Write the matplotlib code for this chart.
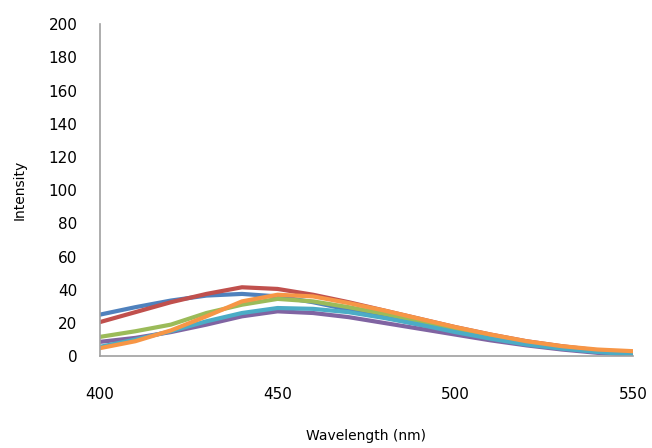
import matplotlib.pyplot as plt

wavelength = [400, 410, 420, 430, 440, 450, 460, 470, 480, 490, 500, 510, 520, 530, 540, 550]

blue   = [25, 29.5, 33.5, 36.5, 37.5, 36, 32.5, 28, 23.5, 19, 14.5, 10.5, 7, 4.5, 2.5, 1.5]
red    = [20.5, 26.5, 32.5, 37.5, 41.5, 40.5, 37, 32.5, 27.5, 22.5, 17.5, 13, 9, 6, 3.5, 2]
green  = [11.6, 15, 19, 26, 31, 34.5, 33, 29.5, 25.5, 21, 16, 12, 8.5, 5.5, 3, 2]
purple = [8.6, 11, 14.5, 19, 24, 27, 26, 23.5, 20, 16.5, 13, 9.5, 6.5, 4, 2, 1]
cyan   = [5.6, 10, 15, 21, 26, 29, 28.5, 26.5, 23, 19, 14.5, 10.5, 7, 4.5, 2.5, 1]
orange = [4.8, 9, 15.5, 24, 33, 37, 36, 32, 27.5, 22.5, 17.5, 13, 9, 6, 4, 3]

series = [blue, red, green, purple, cyan, orange]
colors = ["#4F81BD", "#C0504D", "#9BBB59", "#8064A2", "#4BACC6", "#F79646"]

fig = plt.figure(figsize=(6.52, 4.48), dpi=100)
ax = fig.add_axes([0.153, 0.205, 0.818, 0.741])

for s, c in zip(series, colors):
    ax.plot(wavelength, s, color=c, lw=3, solid_capstyle="round", solid_joinstyle="round")

ax.set_xlim(400, 550)
ax.set_ylim(0, 200)
ax.set_xticks([400, 450, 500, 550])
ax.set_yticks(range(0, 201, 20))

for side in ["top", "right"]:
    ax.spines[side].set_visible(False)
for side in ["left", "bottom"]:
    ax.spines[side].set_color("#A0A0A0")
    ax.spines[side].set_linewidth(1.2)

ax.tick_params(axis="y", length=0, pad=16, labelsize=11)
ax.tick_params(axis="x", length=0, pad=22, labelsize=11)

ax.set_xlabel("Wavelength (nm)", fontsize=10, labelpad=20)
ax.set_ylabel("Intensity", fontsize=10, labelpad=16)

fig.savefig("out.png", dpi=100)
